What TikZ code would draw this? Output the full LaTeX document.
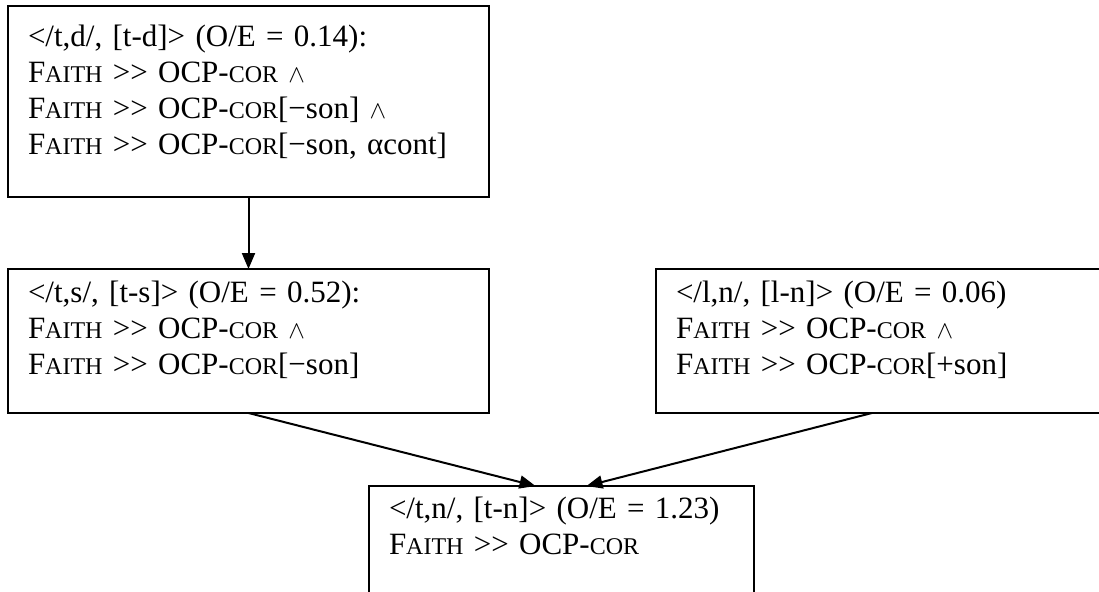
\documentclass[tikz,border=0pt]{standalone}
\usepackage{fontspec}
\setmainfont{Liberation Serif}
\usetikzlibrary{arrows.meta, positioning}
\newcommand{\sCap}[1]{{\fontsize{24}{36}\selectfont #1}}
\newcommand{\faith}{F\sCap{AITH}}
\newcommand{\ocpCor}{OCP-\sCap{COR}}
\newcommand{\wdg}{{\fontsize{28}{36}\selectfont$\wedge$}}

\begin{document}
\begin{tikzpicture}[x=1pt, y=1pt, ->, >={Triangle[length=16pt, width=13pt]}, line width=2pt,
    box/.style={draw, rectangle, anchor=north west, align=left, inner xsep=20pt, inner ysep=0pt,
        outer sep=0pt, font=\fontsize{31}{36}\selectfont}]
    \useasboundingbox (0,0) rectangle (1099,-591);
    \clip (0,0) rectangle (1099,-591);
    %
    \node [box, text width=441pt, text height=41pt, text depth=150pt] (td) at (8,-6)
        {</t,d/, [t-d]> (O/E = 0.14):\\
         \faith{} >{}> \ocpCor{} \wdg\\
         \faith{} >{}> \ocpCor[−son] \wdg\\
         \faith{} >{}> \ocpCor[−son, αcont]};
    \node [box, text width=441pt, text height=33pt, text depth=111pt,
        below right=72pt and 0pt of td.south west] (ts)
        {</t,s/, [t-s]> (O/E = 0.52):\\
         \faith{} >{}> \ocpCor{} \wdg\\
         \faith{} >{}> \ocpCor[−son]};
    \node [box, text width=444pt, text height=33pt, text depth=111pt,
        below right=0pt and 167pt of ts.north east] (ln)
        {</l,n/, [l-n]> (O/E = 0.06)\\
         \faith{} >{}> \ocpCor{} \wdg\\
         \faith{} >{}> \ocpCor[+son]};
    \node [box, text width=345pt, text height=32pt, text depth=150pt,
        below right=73pt and 361pt of ts.south west] (tn)
        {</t,n/, [t-n]> (O/E = 1.23)\\
         \faith{} >{}> \ocpCor};
    %
    \path (td) edge (ts);
    \path (ts.south) edge ([xshift=-26pt]tn.north);
    \path ([xshift=-26pt]ln.south) edge ([xshift=25pt]tn.north);
\end{tikzpicture}
\end{document}
